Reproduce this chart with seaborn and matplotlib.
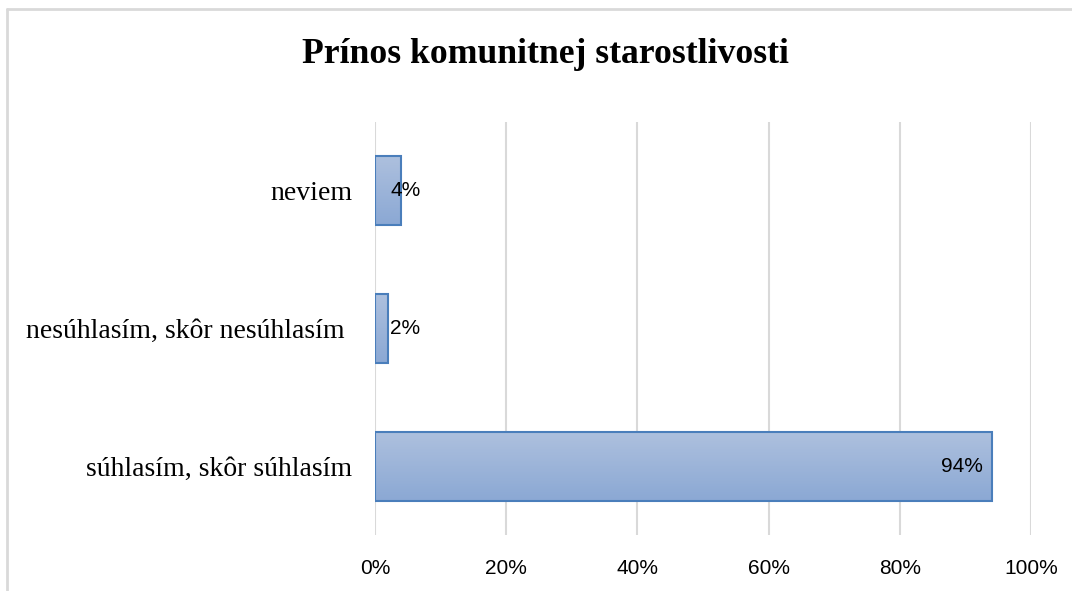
import numpy as np
import pandas as pd
import matplotlib
matplotlib.use("Agg")
import matplotlib.pyplot as plt
import seaborn as sns
from matplotlib.colors import LinearSegmentedColormap
from matplotlib.lines import Line2D

# data
categories = ["neviem", "nesúhlasím, skôr nesúhlasím ", "súhlasím, skôr súhlasím"]
shares = [4, 2, 94]
x_ticks = [0, 20, 40, 60, 80, 100]
title = "Prínos komunitnej starostlivosti"

df = pd.DataFrame({"kategoria": categories, "podiel": shares})

sns.set_theme(style="white")
plt.rcParams["font.family"] = ["Liberation Serif", "DejaVu Serif"]
plt.rcParams["text.color"] = "black"
plt.rcParams["xtick.color"] = "black"
plt.rcParams["ytick.color"] = "black"

fig = plt.figure(figsize=(10.72, 5.91), dpi=100)
ax = fig.add_axes([0.3498, 0.0948, 0.612, 0.6988])

sns.barplot(data=df, x="podiel", y="kategoria", orient="h", width=0.5,
            color="#9fb5da", edgecolor="#4a7ebb", linewidth=1.5,
            saturation=1, ax=ax, zorder=3)

# gradient fill (lighter top, darker bottom) clipped to each bar
grad = LinearSegmentedColormap.from_list("g", ["#adc0de", "#8ba8d4"])
for p in ax.patches:
    x0, y0 = p.get_x(), p.get_y()
    w, h = p.get_width(), p.get_height()
    im = ax.imshow(np.linspace(0, 1, 64).reshape(-1, 1), cmap=grad,
                   extent=[x0, x0 + w, y0 + h, y0], aspect="auto",
                   origin="upper", zorder=3.5)
    im.set_clip_path(p)
    p.set_facecolor("none")
    p.set_zorder(4)

ax.set_xlim(0, 100)
ax.set_ylim(2.5, -0.5)
ax.set_xticks(x_ticks)
ax.set_xticklabels([f"{t}%" for t in x_ticks], family="Liberation Sans",
                   fontsize=15)
ax.tick_params(axis="x", length=0, pad=17)
ax.tick_params(axis="y", length=0, pad=16.5, labelsize=20)
ax.set_xlabel("")
ax.set_ylabel("")
ax.grid(axis="x", color="#d9d9d9", linewidth=1.5, zorder=0)
ax.grid(axis="y", visible=False)
for s in ax.spines.values():
    s.set_visible(False)

# data labels
for i, v in enumerate(shares):
    if v > 10:
        ax.annotate(f"{v}%", xy=(v, i), xytext=(-6, 0), textcoords="offset points",
                    ha="right", va="center", family="Liberation Sans",
                    fontsize=15, color="black", zorder=5)
    else:
        ax.annotate(f"{v}%", xy=(0, i), xytext=(11, 0), textcoords="offset points",
                    ha="left", va="center", family="Liberation Sans",
                    fontsize=15, color="black", zorder=5)

fig.text(0.509, 0.908, title, ha="center", va="center",
         fontsize=25.7, fontweight="bold", color="black")

# chart area border (top and left visible)
fig.add_artist(Line2D([0.0065, 0.0065], [0, 0.984], transform=fig.transFigure,
                      color="#d9d9d9", linewidth=2))
fig.add_artist(Line2D([0.0065, 1], [0.984, 0.984], transform=fig.transFigure,
                      color="#d9d9d9", linewidth=2))

fig.savefig("out.png", dpi=100)
